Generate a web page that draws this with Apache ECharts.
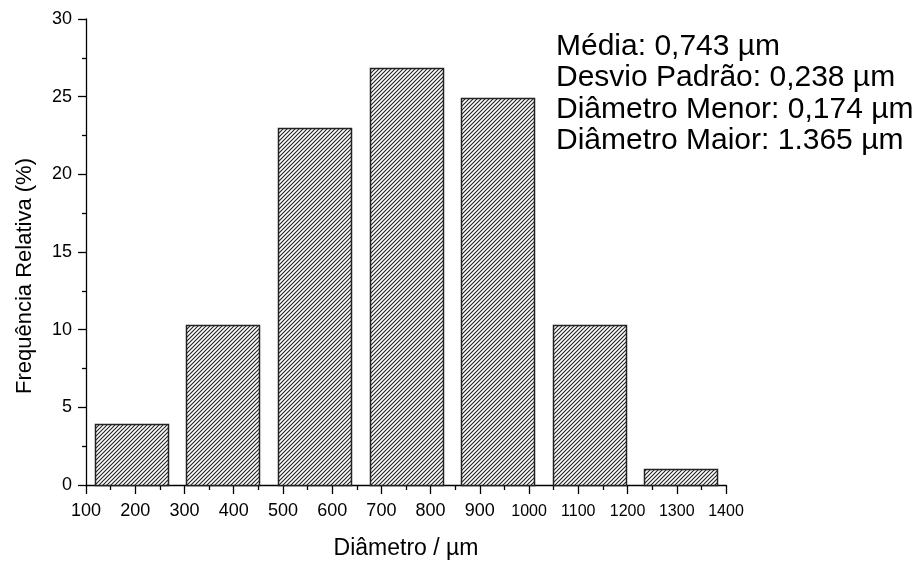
<!DOCTYPE html>
<html>
<head>
<meta charset="utf-8">
<script src="https://cdn.jsdelivr.net/npm/echarts@6/dist/echarts.min.js"></script>
<style>html,body{margin:0;padding:0;background:#fff}#c{width:923px;height:561px}</style>
</head>
<body>
<div id="c"></div>
<script>
const binCenters = [192, 378, 564, 750, 936, 1122, 1307];
const frequencies = [3.9, 10.3, 23.0, 26.85, 24.9, 10.3, 1.0];
const binWidth = 148;
const xTicks = [100, 200, 300, 400, 500, 600, 700, 800, 900, 1000, 1100, 1200, 1300, 1400];
const yTicks = [0, 5, 10, 15, 20, 25, 30];
const annotations = ['Média: 0,743 µm', 'Desvio Padrão: 0,238 µm', 'Diâmetro Menor: 0,174 µm', 'Diâmetro Maior: 1.365 µm'];

const tile = document.createElement('canvas');
tile.width = 4; tile.height = 4;
const g = tile.getContext('2d');
g.fillStyle = '#fff'; g.fillRect(0, 0, 4, 4);
g.strokeStyle = '#222'; g.lineWidth = 1.1;
g.beginPath();
g.moveTo(-1, 5); g.lineTo(5, -1);
g.moveTo(-1, 1); g.lineTo(1, -1);
g.moveTo(3, 5); g.lineTo(5, 3);
g.stroke();

const data = binCenters.map((c, i) => [c, frequencies[i]]);
const font = 'Arial, "Liberation Sans", sans-serif';
const chart = echarts.init(document.getElementById('c'), null, {renderer: 'canvas'});
chart.setOption({
  animation: false,
  backgroundColor: '#fff',
  grid: {left: 86, right: 197, top: 19, bottom: 76, containLabel: false, outerBoundsMode: 'none'},
  xAxis: {
    type: 'value', min: xTicks[0], max: xTicks[xTicks.length - 1], interval: 100,
    name: 'Diâmetro / µm', nameLocation: 'middle', nameGap: 52,
    nameTextStyle: {fontSize: 23, color: '#000', fontFamily: font},
    axisLine: {show: true, lineStyle: {color: '#000', width: 1.3}},
    axisTick: {show: true, length: 9, lineStyle: {color: '#000', width: 1.3}},
    minorTick: {show: true, splitNumber: 2, length: 5, lineStyle: {color: '#000', width: 1.3}},
    axisLabel: {
      fontSize: 18, color: '#000', margin: 17, fontFamily: font,
      formatter: v => String(v).length > 3 ? '{s|' + v + '}' : String(v),
      rich: {s: {fontSize: 16, fontFamily: font, color: '#000', padding: [2, 0, 0, 0]}}
    },
    splitLine: {show: false}
  },
  yAxis: {
    type: 'value', min: yTicks[0], max: yTicks[yTicks.length - 1], interval: 5,
    axisLine: {show: true, lineStyle: {color: '#000', width: 1.3}},
    axisTick: {show: true, length: 8, lineStyle: {color: '#000', width: 1.3}},
    minorTick: {show: true, splitNumber: 2, length: 4, lineStyle: {color: '#000', width: 1.3}},
    axisLabel: {fontSize: 18, color: '#000', margin: 14, fontFamily: font},
    splitLine: {show: false}
  },
  series: [{
    type: 'custom',
    data: data,
    encode: {x: 0, y: 1},
    renderItem: function (params, api) {
      const c = api.value(0), v = api.value(1);
      const p1 = api.coord([c - binWidth / 2, v]);
      const p2 = api.coord([c + binWidth / 2, 0]);
      return {
        type: 'rect',
        shape: {x: Math.round(p1[0]) + 0.5, y: Math.round(p1[1]) + 0.5, width: Math.round(p2[0] - p1[0]), height: Math.round(p2[1] - p1[1])},
        style: {fill: {image: tile, repeat: 'repeat'}, stroke: '#222', lineWidth: 1.5}
      };
    }
  }],
  graphic: annotations.map((t, i) => ({
    type: 'text', left: 556, top: 32 + Math.round(i * 31.3),
    style: {text: t, fill: '#000', font: '30px ' + font}
  })).concat([{
    type: 'text', x: 25, y: 276, rotation: Math.PI / 2,
    style: {text: 'Frequência Relativa (%)', fill: '#000', font: '22px ' + font, align: 'center', verticalAlign: 'middle'}
  }])
});
</script>
</body>
</html>
